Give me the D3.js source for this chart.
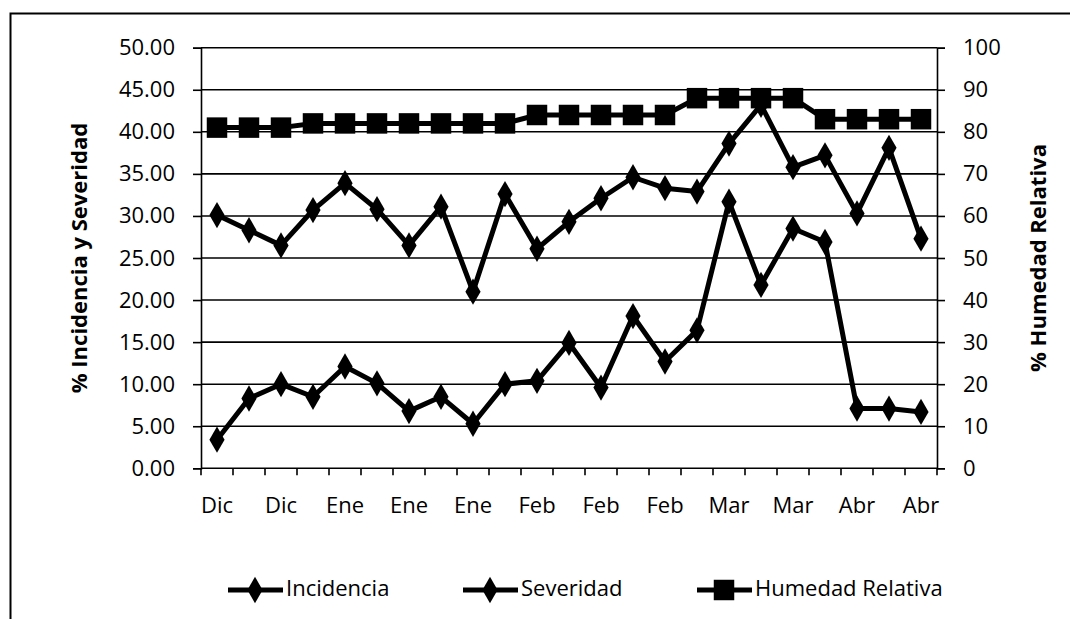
<!DOCTYPE html>
<html>
<head>
<meta charset="utf-8">
<script src="https://cdn.jsdelivr.net/npm/d3@7"></script>
<style>
  html, body { margin: 0; padding: 0; background: #fff; }
  svg { display: block; }
  text { font-family: "Open Sans", Lato, sans-serif; fill: #000; }
</style>
</head>
<body>
<svg id="chart" width="1070" height="619"></svg>
<script>
// Sampling dates (one label every two samples)
const categories = ["Dic","","Dic","","Ene","","Ene","","Ene","","Feb","","Feb","","Feb","","Mar","","Mar","","Abr","","Abr"];

// % Incidencia (left axis)
const incidencia = [3.4, 8.3, 10.0, 8.5, 12.1, 10.1, 6.8, 8.5, 5.3, 10.0, 10.4, 14.9, 9.6, 18.1, 12.7, 16.4, 31.7, 21.8, 28.5, 26.9, 7.1, 7.1, 6.7];

// % Severidad (left axis)
const severidad = [30.1, 28.3, 26.5, 30.7, 33.9, 30.8, 26.5, 31.1, 21.0, 32.6, 26.1, 29.3, 32.1, 34.6, 33.3, 32.9, 38.6, 43.2, 35.8, 37.2, 30.3, 38.1, 27.3];

// % Humedad Relativa (right axis)
const humedad = [81, 81, 81, 82, 82, 82, 82, 82, 82, 82, 84, 84, 84, 84, 84, 88, 88, 88, 88, 83, 83, 83, 83];

const leftTicks = [0, 5, 10, 15, 20, 25, 30, 35, 40, 45, 50];
const rightTicks = [0, 10, 20, 30, 40, 50, 60, 70, 80, 90, 100];
const legendLabels = ["Incidencia", "Severidad", "Humedad Relativa"];

const svg = d3.select("#chart");
const plot = { left: 201, right: 937, top: 47.7, bottom: 468.3 };
const FONT = "'Open Sans', Lato, sans-serif";

// Outer frame (runs off the right and bottom edges)
svg.append("rect")
  .attr("x", 10.5).attr("y", 13.5)
  .attr("width", 1080).attr("height", 640)
  .attr("fill", "none").attr("stroke", "#000").attr("stroke-width", 2);

const x = d3.scaleBand()
  .domain(d3.range(categories.length))
  .range([plot.left, plot.right])
  .paddingInner(0).paddingOuter(0);

const yL = d3.scaleLinear().domain([0, 50]).range([plot.bottom, plot.top]);
const yR = d3.scaleLinear().domain([0, 100]).range([plot.bottom, plot.top]);

// Horizontal gridlines
svg.append("g")
  .selectAll("line")
  .data(leftTicks)
  .join("line")
  .attr("x1", plot.left).attr("x2", plot.right)
  .attr("y1", d => yL(d)).attr("y2", d => yL(d))
  .attr("stroke", "#000").attr("stroke-width", 1.6);

// Left axis
const axisL = svg.append("g")
  .attr("transform", `translate(${plot.left},0)`)
  .call(d3.axisLeft(yL).tickValues(leftTicks).tickFormat(d3.format(".2f")).tickSize(8).tickPadding(18));

// Right axis
const axisR = svg.append("g")
  .attr("transform", `translate(${plot.right},0)`)
  .call(d3.axisRight(yR).tickValues(rightTicks).tickFormat(d3.format("d")).tickSize(8).tickPadding(18));

// Bottom axis: ticks at category boundaries, labels at centres
const axisB = svg.append("g")
  .attr("transform", `translate(0,${plot.bottom})`)
  .call(d3.axisBottom(x).tickFormat(i => categories[i]).tickSize(0).tickPadding(29));

svg.append("g")
  .selectAll("line")
  .data(d3.range(categories.length + 1))
  .join("line")
  .attr("x1", i => plot.left + i * x.step())
  .attr("x2", i => plot.left + i * x.step())
  .attr("y1", plot.bottom).attr("y2", plot.bottom + 7)
  .attr("stroke", "#000").attr("stroke-width", 1.6);

[axisL, axisR, axisB].forEach(g => {
  g.selectAll(".domain").attr("stroke", "#000").attr("stroke-width", 1.6);
  g.selectAll(".tick line").attr("stroke", "#000").attr("stroke-width", 1.6);
  g.selectAll("text").attr("font-size", 22).attr("font-family", FONT);
});
axisB.select(".domain").remove();

// Axis titles
svg.append("text")
  .attr("transform", `translate(81,258) rotate(-90)`)
  .attr("text-anchor", "middle")
  .attr("dominant-baseline", "middle")
  .attr("font-size", 22).attr("font-weight", "bold")
  .text("% Incidencia y Severidad");

svg.append("text")
  .attr("transform", `translate(1040,258) rotate(-90)`)
  .attr("text-anchor", "middle")
  .attr("dominant-baseline", "middle")
  .attr("font-size", 22).attr("font-weight", "bold")
  .text("% Humedad Relativa");

const cx = i => x(i) + x.bandwidth() / 2;

function drawSeries(values, yScale, shape, size) {
  const g = svg.append("g");
  g.append("path")
    .datum(values)
    .attr("fill", "none")
    .attr("stroke", "#000")
    .attr("stroke-width", 5)
    .attr("stroke-linejoin", "round")
    .attr("d", d3.line().x((d, i) => cx(i)).y(d => yScale(d)));
  g.selectAll("path.mk")
    .data(values)
    .join("path")
    .attr("class", "mk")
    .attr("transform", (d, i) => `translate(${cx(i)},${yScale(d)})`)
    .attr("d", d3.symbol().type(shape).size(size))
    .attr("fill", "#000");
}

drawSeries(humedad, yR, d3.symbolSquare, 420);
drawSeries(severidad, yL, d3.symbolDiamond, 200);
drawSeries(incidencia, yL, d3.symbolDiamond, 200);

// Legend
const legendItems = [
  { label: legendLabels[0], x0: 228, shape: d3.symbolDiamond, size: 200 },
  { label: legendLabels[1], x0: 463, shape: d3.symbolDiamond, size: 200 },
  { label: legendLabels[2], x0: 697, shape: d3.symbolSquare, size: 420 }
];
const ly = 590;
const lg = svg.append("g");
legendItems.forEach(it => {
  lg.append("line")
    .attr("x1", it.x0).attr("x2", it.x0 + 55)
    .attr("y1", ly).attr("y2", ly)
    .attr("stroke", "#000").attr("stroke-width", 5);
  lg.append("path")
    .attr("transform", `translate(${it.x0 + 27},${ly})`)
    .attr("d", d3.symbol().type(it.shape).size(it.size))
    .attr("fill", "#000");
  lg.append("text")
    .attr("x", it.x0 + 58).attr("y", ly)
    .attr("dominant-baseline", "middle")
    .attr("font-size", 22)
    .attr("font-family", FONT)
    .text(it.label);
});
</script>
</body>
</html>
